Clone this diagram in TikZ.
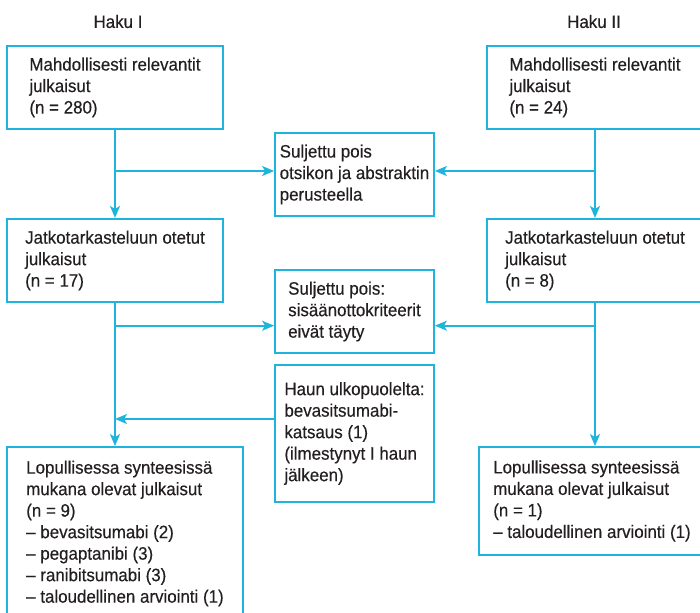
\documentclass[tikz,border=0pt]{standalone}
\usepackage{fontspec}
\setmainfont{Liberation Sans}[FakeStretch=0.94, FakeBold=0.35]
\usetikzlibrary{arrows.meta}
\definecolor{flowcyan}{RGB}{30,180,220}
\definecolor{flowtext}{RGB}{35,31,32}

\begin{document}
\begin{tikzpicture}[
    x=1pt, y=-1pt,
    every node/.style={font=\fontsize{18}{21.5}\selectfont, text=flowtext},
    box/.style={draw=flowcyan, line width=1.8pt, align=left, inner sep=0pt, minimum width=215.7pt, minimum height=83.3pt},
    smallbox/.style={box, minimum width=159pt},
    arrow/.style={-{Stealth[length=12pt,width=10pt,inset=3pt]}, draw=flowcyan, line width=1.6pt}
]
\useasboundingbox (0,0) rectangle (700,612);
\node (haku1) at (118,21.5) {Haku I};
\node (haku2) at (594,21.5) {Haku II};
\node[box] (a1) at (115,87.4) {Mahdollisesti relevantit\\julkaisut\\(n = 280)};
\node[box] (b1) at (595,87.4) {Mahdollisesti relevantit\\julkaisut\\(n = 24)};
\node[smallbox] (m1) at (354.5,174.4) {Suljettu pois\\otsikon ja abstraktin\\perusteella};
\node[box] (a2) at (115,260.5) {Jatkotarkasteluun otetut\\julkaisut\\(n = 17)};
\node[box] (b2) at (595,260.5) {Jatkotarkasteluun otetut\\julkaisut\\(n = 8)};
\node[smallbox] (m2) at (354.5,311.5) {Suljettu pois:\\sisäänottokriteerit\\eivät täyty};
\node[smallbox, minimum height=137pt] (m3) at (354.5,433.5) {Haun ulkopuolelta:\\bevasitsumabi-\\katsaus (1)\\(ilmestynyt I haun\\jälkeen)};
\node[box, minimum width=235.7pt, minimum height=173pt] (a3) at (125,533.5) {Lopullisessa synteesissä\\mukana olevat julkaisut\\(n = 9)\\– bevasitsumabi (2)\\– pegaptanibi (3)\\– ranibitsumabi (3)\\– taloudellinen arviointi (1)};
\node[box, minimum width=226.3pt, minimum height=108pt] (b3) at (592,501) {Lopullisessa synteesissä\\mukana olevat julkaisut\\(n = 1)\\– taloudellinen arviointi (1)};
% junctions on the vertical lines
\coordinate (j1) at (115,171);
\coordinate (j2) at (595,171);
\coordinate (j3) at (115,325.7);
\coordinate (j4) at (595,325.7);
\coordinate (j5) at (115,419);
\draw[arrow] (a1) -- (a2);
\draw[arrow] (b1) -- (b2);
\draw[arrow] (a2.south) -- (a2.south |- a3.north);
\draw[arrow] (b2.south) -- (b2.south |- b3.north);
\draw[arrow] (j1) -- (j1 -| m1.west);
\draw[arrow] (j2) -- (j2 -| m1.east);
\draw[arrow] (j3) -- (j3 -| m2.west);
\draw[arrow] (j4) -- (j4 -| m2.east);
\draw[arrow] (m3.west |- j5) -- (j5);
\end{tikzpicture}
\end{document}
